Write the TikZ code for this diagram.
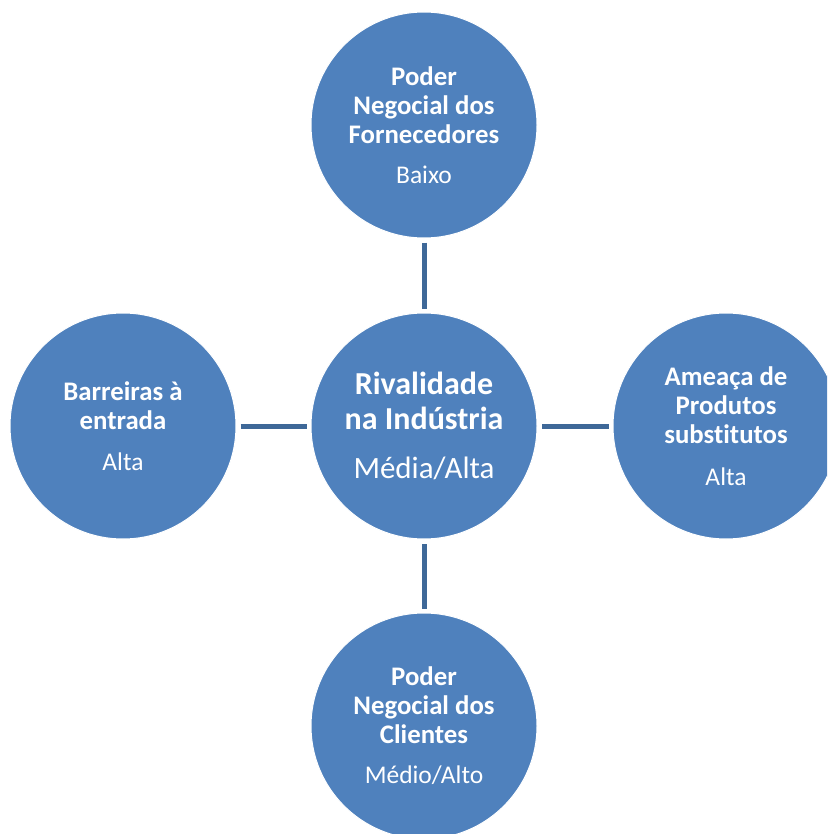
\documentclass[tikz,border=0pt]{standalone}
\usepackage{fontspec}
\setmainfont[Ligatures=NoCommon]{Carlito}
\definecolor{discblue}{HTML}{4F81BD}
\definecolor{linkblue}{HTML}{3E6898}
\newcommand{\hdline}[1]{{\fontsize{26.8}{29}\selectfont\bfseries #1}}
\newcommand{\bighd}[1]{{\fontsize{32}{35}\selectfont\bfseries #1}}
\begin{document}
\begin{tikzpicture}[x=1pt,y=-1pt,
  disc/.style={circle,fill=discblue,draw=white,line width=1pt,minimum size=226pt,inner sep=0pt,text=white,align=center,font=\fontsize{25.5}{29}\selectfont},
  bigdisc/.style={disc,font=\fontsize{31}{35}\selectfont},
  link/.style={draw=linkblue,line width=5pt,shorten >=4pt,shorten <=4pt}]
\useasboundingbox (0,0) rectangle (827,834);
\clip (0,0) rectangle (827,834);
\node[bigdisc] (ctr) at (424,426) {\bighd{Rivalidade}\\\bighd{na Indústria}\\[14pt]Média/Alta};
\node[disc] (top) at (424,125) {\hdline{Poder}\\\hdline{Negocial dos}\\\hdline{Fornecedores}\\[11pt]Baixo};
\node[disc] (left) at (123,426) {\hdline{Barreiras à}\\\hdline{entrada}\\[12pt]Alta};
\node[disc] (right) at (726,426) {\hdline{Ameaça de}\\\hdline{Produtos}\\\hdline{substitutos}\\[13pt]Alta};
\node[disc] (bot) at (424,726) {\hdline{Poder}\\\hdline{Negocial dos}\\\hdline{Clientes}\\[11pt]Médio/Alto};
\draw[link] (top) -- (ctr);
\draw[link] (left) -- (ctr);
\draw[link] (right) -- (ctr);
\draw[link] (bot) -- (ctr);
\end{tikzpicture}
\end{document}
